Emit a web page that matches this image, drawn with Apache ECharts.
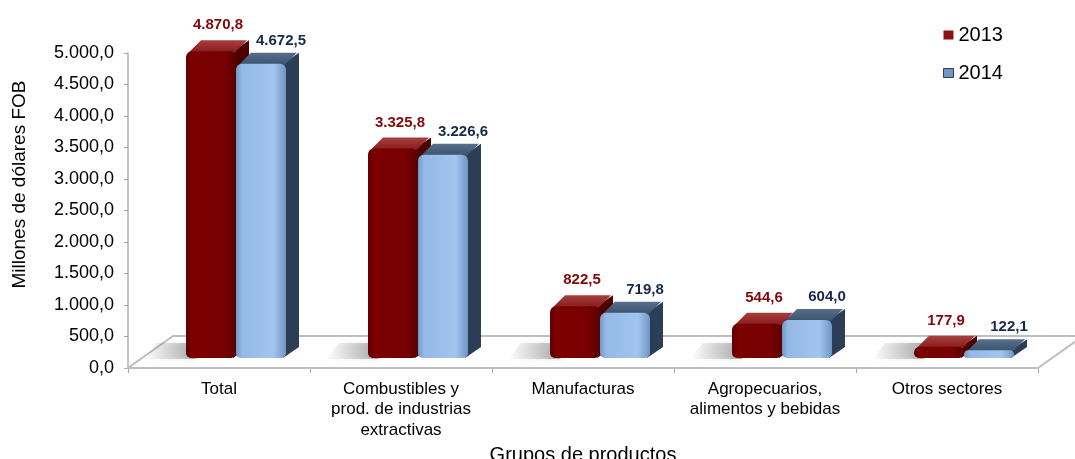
<!DOCTYPE html>
<html><head><meta charset="utf-8">
<script src="https://cdn.jsdelivr.net/npm/echarts@6/dist/echarts.min.js"></script>
<style>html,body{margin:0;padding:0;background:#fff}#c{width:1075px;height:459px}</style>
</head><body><div id="c"></div>
<script>
const categories = ['Total', 'Combustibles y\nprod. de industrias\nextractivas', 'Manufacturas', 'Agropecuarios,\nalimentos y bebidas', 'Otros sectores'];
const values2013 = [4870.8, 3325.8, 822.5, 544.6, 177.9];
const values2014 = [4672.5, 3226.6, 719.8, 604.0, 122.1];
const seriesNames = ['2013', '2014'];
const yMin = 0, yMax = 5000, yStep = 500;

function fmt(v) {
  const neg = v < 0; v = Math.abs(v);
  const s = v.toFixed(1);
  let [ip, dp] = s.split('.');
  ip = ip.replace(/\B(?=(\d{3})+(?!\d))/g, '.');
  return (neg ? '-' : '') + ip + ',' + dp;
}

const FONT = '"Liberation Sans", Arial, sans-serif';
const BAR_FRAC = 50 / 182, SHIFT_FRAC = 17 / 182;
const LIFT = 10, DX = 13, DY = -11;

const palettes = [
  { front: ['#5e0000', '#7c0000', '#780000', '#5a0000'], top: '#861818', topHi: '#a84040', side: '#4e0000', label: '#7f0a0a', lx: 7, ly: -26 },
  { front: ['#6f97c8', '#94b9e6', '#a2c5ee', '#6f96c4'], top: '#3a506b', topHi: '#566f8c', side: '#2c3e55', label: '#17294a', lx: 20, ly: -23 }
];

function makeRender(idx) {
  const p = palettes[idx];
  return function (params, api) {
    const cat = api.value(0), val = api.value(1);
    const top = api.coord([cat, val]);
    const base = api.coord([cat, 0]);
    const band = api.size([1, 0])[0];
    const w = band * BAR_FRAC;
    const cx = top[0] + band * SHIFT_FRAC;
    const x0 = cx - w + idx * w, x1 = x0 + w;
    const yT = top[1] - LIFT, yB = base[1] - LIFT;
    const children = [];
    if (idx === 0) {
      children.push({
        type: 'polygon',
        shape: { points: [[x0 - 42, yB + 1], [x0 + 10, yB + 1], [x0 + 10 + DX, yB - 15], [x0 - 42 + DX, yB - 15]] },
        style: {
          fill: new echarts.graphic.LinearGradient(0, 0, 1, 0, [
            { offset: 0, color: 'rgba(110,110,110,0)' }, { offset: 0.7, color: 'rgba(90,90,90,0.38)' }, { offset: 1, color: 'rgba(70,70,70,0.6)' }]),
          shadowBlur: 6, shadowColor: 'rgba(0,0,0,0.25)'
        }
      });
    }
    children.push({
      type: 'polygon',
      shape: { points: [[x1 - 3, yT], [x1 + DX, yT + DY], [x1 + DX, yB + DY], [x1 - 3, yB]] },
      style: { fill: p.side }
    });
    children.push({
      type: 'polygon',
      shape: { points: [[x0 + 2, yT + 2], [x1 - 2, yT + 2], [x1 + DX - 2, yT + DY], [x0 + DX + 2, yT + DY]] },
      style: { fill: new echarts.graphic.LinearGradient(0, 1, 0, 0, [
        { offset: 0, color: p.top }, { offset: 1, color: p.topHi }]) }
    });
    children.push({
      type: 'rect',
      shape: { x: x0, y: yT, width: w, height: yB - yT, r: [6, 6, 5, 5] },
      style: { fill: new echarts.graphic.LinearGradient(0, 0, 1, 0, [
        { offset: 0, color: p.front[0] }, { offset: 0.12, color: p.front[1] },
        { offset: 0.75, color: p.front[2] }, { offset: 1, color: p.front[3] }]) }
    });
    children.push({
      type: 'text',
      style: {
        x: (x0 + x1) / 2 + p.lx, y: yT + p.ly, text: fmt(val),
        align: 'center', verticalAlign: 'middle',
        font: 'bold 15px ' + FONT, fill: p.label
      }
    });
    return { type: 'group', children };
  };
}

function floorRender(params, api) {
  const cs = params.coordSys;
  const x = cs.x, y = cs.y + cs.height, w = cs.width;
  return {
    type: 'polygon',
    shape: { points: [[x, y], [x + w, y], [x + w + 45, y - 32], [x + 45, y - 32]] },
    style: { fill: '#ffffff', stroke: '#bfbfbf', lineWidth: 2 }
  };
}

const chart = echarts.init(document.getElementById('c'), null, { renderer: 'canvas' });
chart.setOption({
  animation: false,
  backgroundColor: '#ffffff',
  textStyle: { fontFamily: FONT },
  grid: { left: 128, right: 37, top: 53, bottom: 91, containLabel: false, outerBoundsMode: 'none' },
  legend: {
    orient: 'vertical', left: 938, top: 20, itemWidth: 10, itemHeight: 9, itemGap: 18,
    textStyle: { fontSize: 20, color: '#000', fontFamily: FONT },
    data: [
      { name: seriesNames[0], icon: 'rect', itemStyle: { color: '#8b1212' } },
      { name: seriesNames[1], icon: 'rect', itemStyle: { color: '#7396c2', borderColor: '#2c3e55', borderWidth: 1 } }
    ]
  },
  xAxis: {
    type: 'category', data: categories,
    name: 'Grupos de productos', nameLocation: 'middle', nameGap: 63,
    nameTextStyle: { fontSize: 20, color: '#000', fontFamily: FONT },
    axisLine: { show: true, lineStyle: { color: '#bfbfbf', width: 2 } },
    axisTick: { show: true, length: 5, lineStyle: { color: '#a6a6a6' } },
    axisLabel: { fontSize: 17, color: '#000', lineHeight: 20.5, margin: 11, interval: 0, fontFamily: FONT }
  },
  yAxis: {
    type: 'value', min: yMin, max: yMax, interval: yStep,
    name: 'Millones de dólares FOB', nameLocation: 'middle', nameGap: 99,
    nameTextStyle: { fontSize: 19, color: '#000', fontFamily: FONT, padding: [0, 0, 0, 52] },
    axisLine: { show: true, lineStyle: { color: '#b0b0b0', width: 1.5 } },
    axisTick: { show: true, length: 4, lineStyle: { color: '#a6a6a6' } },
    splitLine: { show: false },
    axisLabel: { fontSize: 18, color: '#000', margin: 14, formatter: fmt, fontFamily: FONT }
  },
  series: [
    { type: 'custom', name: 'floor', renderItem: floorRender, data: [[0, 0]], z: 1, silent: true, clip: false, legendHoverLink: false },
    { type: 'custom', name: seriesNames[0], renderItem: makeRender(0), z: 2, clip: false,
      itemStyle: { color: '#8b1212' },
      data: values2013.map((v, i) => [i, v]), encode: { x: 0, y: 1 } },
    { type: 'custom', name: seriesNames[1], renderItem: makeRender(1), z: 3, clip: false,
      itemStyle: { color: '#7396c2' },
      data: values2014.map((v, i) => [i, v]), encode: { x: 0, y: 1 } }
  ]
});
</script></body></html>
